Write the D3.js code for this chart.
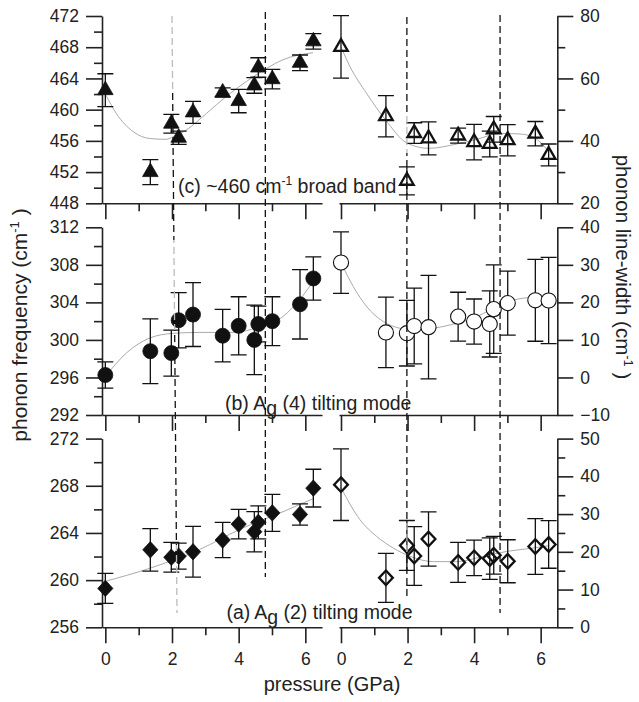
<!DOCTYPE html>
<html lang="en">
<head>
<meta charset="UTF-8">
<title>Phonon frequency and line-width vs pressure</title>
<script src="https://cdn.jsdelivr.net/npm/d3@7"></script>
<style>
  body { margin: 0; background: #fff; }
  svg text { font-family: "Liberation Sans", Arial, Helvetica, sans-serif; fill: #222; }
  .axis path, .axis line { stroke: #222; stroke-width: 1.6; }
  .axis text { font-size: 17.5px; fill: #222; }
  .err { stroke: #111; stroke-width: 1.3; fill: none; }
  .fit { stroke: #aaa; stroke-width: 1; fill: none; }
</style>
</head>
<body>
<svg width="639" height="702"></svg>
<script>
// pressure of each measurement (GPa), shared by all series
const pressure = [0, 1.35, 1.98, 2.2, 2.63, 3.52, 4.0, 4.47, 4.59, 5.01, 5.84, 6.24];

// (c) ~460 cm-1 broad band
const freqC     = [462.5, 452.0, 458.2, 456.4, 459.65, 462.2, 461.1, 463.1, 465.4, 463.9, 466.0, 468.75];
const freqCErr  = [2.1, 1.6, 1.2, 0.85, 1.4, 0.6, 1.5, 1.0, 1.25, 1.25, 1.0, 1.0];
const widthC    = [70.1, 47.9, 27.2, 42.5, 40.8, 41.7, 39.6, 39.0, 43.7, 40.2, 42.3, 35.5];
const widthCErr = [10, 6.6, 4.5, 3.3, 5.3, 2.4, 5.7, 4.1, 4.1, 5, 3.9, 3.5];

// (b) Ag(4) tilting mode
const freqB     = [296.26, 298.8, 298.6, 302.1, 302.7, 300.45, 301.5, 300.0, 301.7, 302.0, 303.8, 306.55];
const freqBErr  = [1.4, 3.45, 2.45, 2.95, 3.4, 2.8, 3.1, 3.7, 1.9, 2.6, 3.7, 2.3];
const widthB    = [30.6, 12.0, 11.8, 13.7, 13.4, 16.2, 14.9, 14.25, 18.2, 19.8, 20.55, 20.5];
const widthBErr = [8.2, 9.4, 8.75, 10.1, 13.8, 6.5, 6.0, 8.8, 11.8, 8.5, 10.9, 11.5];

// (a) Ag(2) tilting mode
const freqA     = [259.3, 262.57, 261.94, 262.03, 262.4, 263.4, 264.75, 264.1, 264.9, 265.7, 265.57, 267.8];
const freqAErr  = [1.27, 1.8, 1.26, 1.1, 2.15, 1.5, 1.25, 1.7, 1.4, 1.57, 0.9, 1.6];
const widthA    = [37.8, 13.1, 21.7, 18.9, 23.4, 17.2, 18.4, 18.2, 19.1, 17.5, 21.4, 21.95];
const widthAErr = [9.5, 6.5, 6.6, 7.8, 7.2, 5.3, 4.7, 5.5, 5.0, 5.7, 7.4, 6.3];

// guide-to-the-eye curves (pressure, value)
const fitFreqCP  = [0, 0.33, 0.83, 1.33, 1.83, 2.03, 2.43, 3.03, 3.63, 4.23, 4.73, 5.33, 6.23];
const fitFreqCV  = [462.0, 459.5, 457.2, 456.3, 456.2, 456.5, 457.4, 459.5, 461.7, 463.6, 465.0, 466.4, 467.3];
const fitWidthCP = [0, 0.27, 0.77, 1.34, 1.97, 2.63, 3.48, 4.08, 4.78, 5.38, 5.78, 6.24];
const fitWidthCV = [70.1, 63.8, 55.2, 46.7, 39.4, 37.6, 39.0, 40.5, 42.4, 42.2, 41.2, 36.6];
const fitFreqBP  = [0, 0.63, 1.33, 2.03, 2.83, 3.83, 4.63, 5.33, 5.83, 6.23];
const fitFreqBV  = [296.1, 298.6, 300.2, 300.7, 300.8, 300.8, 301.4, 302.5, 304.3, 306.2];
const fitWidthBP = [0, 0.37, 0.77, 1.27, 1.77, 2.18, 2.78, 3.28, 3.98, 4.58, 5.18, 5.78, 6.24];
const fitWidthBV = [30.6, 24.2, 18.9, 14.9, 13.1, 12.6, 13.1, 14.0, 15.8, 18.4, 20.6, 21.3, 20.8];
const fitFreqAP  = [0, 1.33, 2.83, 4.03, 5.33, 6.23];
const fitFreqAV  = [259.9, 261.0, 262.6, 264.3, 265.8, 266.9];
const fitWidthAP = [0, 0.57, 1.07, 1.57, 2.08, 2.78, 3.48, 4.28, 4.98, 5.78, 6.24];
const fitWidthAV = [37, 28.5, 24.1, 21.0, 18.8, 17.4, 17.4, 18.8, 20.1, 21.0, 21.6];

// axis ticks
const pressureTicks = [0, 2, 4, 6];
const pressureMinor = [1, 3, 5];
const freqTicksC = [448, 452, 456, 460, 464, 468, 472], freqMinorC = [450, 454, 458, 462, 466, 470];
const widthTicksC = [20, 40, 60, 80], widthMinorC = [30, 50, 70];
const freqTicksB = [292, 296, 300, 304, 308, 312], freqMinorB = [294, 298, 302, 306, 310];
const widthTicksB = [-10, 0, 10, 20, 30, 40], widthMinorB = [];
const freqTicksA = [256, 260, 264, 268, 272], freqMinorA = [258, 262, 266, 270];
const widthTicksA = [0, 10, 20, 30, 40, 50], widthMinorA = [5, 15, 25, 35, 45];

// dashed vertical guides (GPa)
const guideLeftTop = [2.0, 4.8], guideLeftBottom = [2.15, 4.8];
const guideRight = [1.98, 4.78];

const svg = d3.select("svg");
const ink = "#111", grey = "#bbb";

let xL = d3.scaleLinear().domain([-0.1, 6.5]).range([102, 322]);
let xR = d3.scaleLinear().domain([-0.06, 6.5]).range([339, 557.3]);

const panels = [
  { top: 16, bottom: 203.3, shape: "triangle",
    freq: freqC, freqErr: freqCErr, width: widthC, widthErr: widthCErr,
    freqDomain: [448, 472], widthDomain: [20, 80],
    freqTicks: freqTicksC, freqMinor: freqMinorC, widthTicks: widthTicksC, widthMinor: widthMinorC,
    fitFreq: [fitFreqCP, fitFreqCV], fitWidth: [fitWidthCP, fitWidthCV] },
  { top: 227.3, bottom: 415, shape: "circle",
    freq: freqB, freqErr: freqBErr, width: widthB, widthErr: widthBErr,
    freqDomain: [292, 312], widthDomain: [-10, 40],
    freqTicks: freqTicksB, freqMinor: freqMinorB, widthTicks: widthTicksB, widthMinor: widthMinorB,
    fitFreq: [fitFreqBP, fitFreqBV], fitWidth: [fitWidthBP, fitWidthBV] },
  { top: 438.6, bottom: 627.3, shape: "diamond",
    freq: freqA, freqErr: freqAErr, width: widthA, widthErr: widthAErr,
    freqDomain: [256, 272], widthDomain: [0, 50],
    freqTicks: freqTicksA, freqMinor: freqMinorA, widthTicks: widthTicksA, widthMinor: widthMinorA,
    fitFreq: [fitFreqAP, fitFreqAV], fitWidth: [fitWidthAP, fitWidthAV] }
];

function markerPath(shape, filled) {
  if (shape == "triangle") return d3.symbol(d3.symbolTriangle, filled ? 105 : 80)();
  if (shape == "circle") return d3.symbol(d3.symbolCircle, filled ? 177 : 180)();
  // diamond
  return filled ? "M0,-8.2L7.6,0L0,8.2L-7.6,0Z" : "M0,-7.3L6.9,0L0,7.3L-6.9,0Z";
}

function drawSeries(g, x, y, values, errs, fit, shape, filled) {
  // fit curve
  let pts = fit[0].map((p, i) => [p, fit[1][i]]);
  g.append("path")
    .attr("class", "fit")
    .attr("d", d3.line().x(d => x(d[0])).y(d => y(d[1])).curve(d3.curveMonotoneX)(pts));

  let data = pressure.map((p, i) => ({ p: p, v: values[i], e: errs[i] }));

  // error bars
  g.append("g").selectAll("path").data(data).enter().append("path")
    .attr("class", "err")
    .attr("d", d => {
      let cx = x(d.p), y0 = y(d.v - d.e), y1 = y(d.v + d.e);
      return "M" + cx + "," + y0 + "V" + y1 +
        "M" + (cx - 8) + "," + y0 + "H" + (cx + 8) +
        "M" + (cx - 8) + "," + y1 + "H" + (cx + 8);
    });

  // markers
  g.append("g").selectAll("path").data(data).enter().append("path")
    .attr("transform", d => "translate(" + x(d.p) + "," + y(d.v) + ")")
    .attr("d", markerPath(shape, filled))
    .attr("fill", filled ? ink : (shape == "circle" ? "#fff" : "none"))
    .attr("stroke", ink)
    .attr("stroke-width", filled ? 0.8 : (shape == "circle" ? 1.1 : 2.3));
}

panels.forEach(function (pn, k) {
  let yF = d3.scaleLinear().domain(pn.freqDomain).range([pn.bottom, pn.top]);
  let yW = d3.scaleLinear().domain(pn.widthDomain).range([pn.bottom, pn.top]);
  let last = k == panels.length - 1;

  // left half: frequency
  svg.append("g").attr("class", "axis")
    .attr("transform", "translate(102,0)")
    .call(d3.axisLeft(yF).tickValues(pn.freqTicks).tickSize(16).tickSizeOuter(0).tickPadding(7));
  svg.append("g").attr("class", "axis")
    .attr("transform", "translate(102,0)")
    .call(d3.axisLeft(yF).tickValues(pn.freqMinor).tickSize(8).tickSizeOuter(0).tickFormat(""))
    .select(".domain").remove();

  // right half: line-width
  svg.append("g").attr("class", "axis")
    .attr("transform", "translate(557.3,0)")
    .call(d3.axisRight(yW).tickValues(pn.widthTicks).tickSize(16).tickSizeOuter(0).tickPadding(7));
  svg.append("g").attr("class", "axis")
    .attr("transform", "translate(557.3,0)")
    .call(d3.axisRight(yW).tickValues(pn.widthMinor).tickSize(8).tickSizeOuter(0).tickFormat(""))
    .select(".domain").remove();

  // pressure axes
  [xL, xR].forEach(function (x) {
    svg.append("g").attr("class", "axis")
      .attr("transform", "translate(0," + pn.bottom + ")")
      .call(d3.axisBottom(x).tickValues(pressureTicks).tickSize(16).tickSizeOuter(0).tickPadding(9)
        .tickFormat(last ? d3.format("d") : ""));
    svg.append("g").attr("class", "axis")
      .attr("transform", "translate(0," + pn.bottom + ")")
      .call(d3.axisBottom(x).tickValues(pressureMinor).tickSize(8).tickSizeOuter(0).tickFormat(""))
      .select(".domain").remove();
  });

  drawSeries(svg.append("g"), xL, yF, pn.freq, pn.freqErr, pn.fitFreq, pn.shape, true);
  drawSeries(svg.append("g"), xR, yW, pn.width, pn.widthErr, pn.fitWidth, pn.shape, false);
});

// panel labels
let lc = svg.append("text").attr("x", 178).attr("y", 193).style("font-size", "19.5px");
lc.append("tspan").text("(c) ~460 cm");
lc.append("tspan").attr("dy", -8).style("font-size", "12px").text("-1");
lc.append("tspan").attr("dy", 8).text(" broad band");

let lb = svg.append("text").attr("x", 225).attr("y", 410).style("font-size", "19.5px");
lb.append("tspan").text("(b) A");
lb.append("tspan").attr("dy", 5).text("g");
lb.append("tspan").attr("dy", -5).text(" (4) tilting mode");

let la = svg.append("text").attr("x", 226.5).attr("y", 619).style("font-size", "19.5px");
la.append("tspan").text("(a)\u2009A");
la.append("tspan").attr("dy", 5).text("g");
la.append("tspan").attr("dy", -5).text(" (2) tilting mode");

// axis titles
function unitTitle(t, label) {
  t.append("tspan").text(label + " (cm");
  t.append("tspan").attr("dy", -8).style("font-size", "13px").text("-1");
  t.append("tspan").attr("dy", 8).text(" )");
}
unitTitle(svg.append("text")
  .attr("transform", "translate(27,325) rotate(-90)")
  .attr("text-anchor", "middle").style("font-size", "21px"), "phonon frequency");
unitTitle(svg.append("text")
  .attr("transform", "translate(616,267) rotate(90)")
  .attr("text-anchor", "middle").style("font-size", "20.5px"), "phonon line-width");

svg.append("text")
  .attr("x", 332).attr("y", 691)
  .attr("text-anchor", "middle").style("font-size", "20px")
  .text("pressure (GPa)");

// dashed guides, partly faded as in the original
const guides = [
  { x1: xL(guideLeftTop[0]), x2: xL(guideLeftBottom[0]), y1: 16, y2: 613,
    bands: [[16, 90, grey], [90, 240, ink], [240, 330, grey], [330, 545, ink], [545, 613, grey]] },
  { x1: xL(guideLeftTop[1]), x2: xL(guideLeftBottom[1]), y1: 12, y2: 577, bands: [[12, 577, ink]] },
  { x1: xR(guideRight[0]), x2: xR(guideRight[0]), y1: 17, y2: 600,
    bands: [[17, 113, ink], [113, 153, grey], [153, 522, ink], [522, 553, grey], [553, 600, ink]] },
  { x1: xR(guideRight[1]), x2: xR(guideRight[1]), y1: 15, y2: 613, bands: [[15, 613, ink]] }
];
let defs = svg.append("defs");
guides.forEach(function (gd, i) {
  let grad = defs.append("linearGradient").attr("id", "guide" + i)
    .attr("gradientUnits", "userSpaceOnUse")
    .attr("x1", 0).attr("x2", 0).attr("y1", gd.y1).attr("y2", gd.y2);
  gd.bands.forEach(function (b) {
    grad.append("stop").attr("offset", (b[0] - gd.y1) / (gd.y2 - gd.y1)).attr("stop-color", b[2]);
    grad.append("stop").attr("offset", (b[1] - gd.y1) / (gd.y2 - gd.y1)).attr("stop-color", b[2]);
  });
  svg.append("line")
    .attr("x1", gd.x1).attr("x2", gd.x2).attr("y1", gd.y1).attr("y2", gd.y2)
    .attr("stroke", "url(#guide" + i + ")")
    .attr("stroke-width", 1.3)
    .attr("stroke-dasharray", "7,4");
});
</script>
</body>
</html>
